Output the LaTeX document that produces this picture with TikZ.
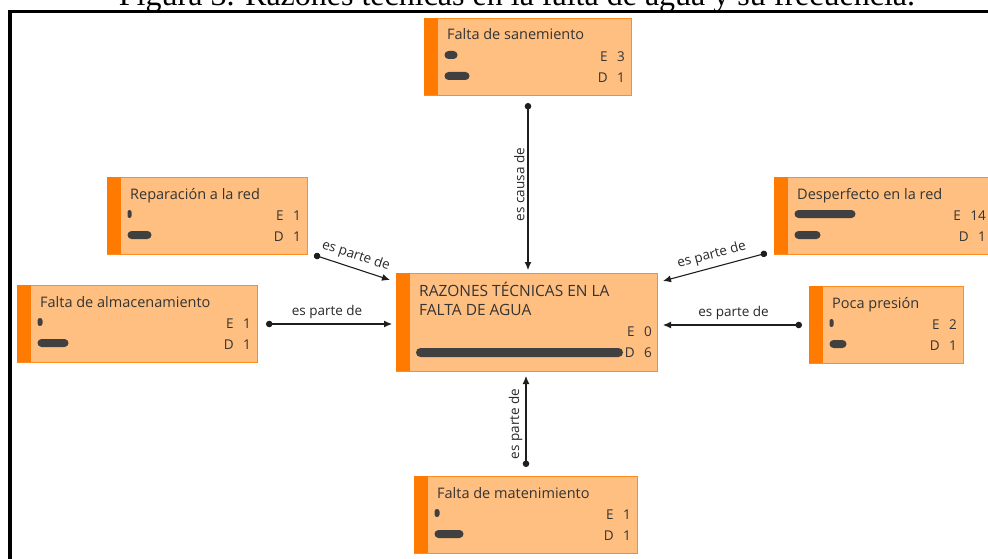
\documentclass[tikz,border=0pt]{standalone}
\usepackage{fontspec}
\setmainfont{Liberation Serif}
\newfontfamily\uifont{Open Sans}
\usepackage{xcolor}
\usepackage{tikz}
\usetikzlibrary{arrows.meta}

\definecolor{boxfill}{RGB}{255,191,128}
\definecolor{boxline}{RGB}{255,140,30}
\definecolor{barorange}{RGB}{255,122,0}
\definecolor{ink}{RGB}{64,64,64}
\definecolor{textink}{RGB}{52,52,52}

% one code box: name, left, top, width, title, E bar, D bar, E count, D count
\newcommand{\codebox}[9]{%
	\node[codebox, minimum width=#4] (#1) at (#2,#3) {};
	\fill[barorange] (#1.north west) rectangle ++(14,77);
	\path (#1.north west) ++(23,22) node[boxtitle] (#1-t) {#5};
	\pgfmathsetmacro\rca{min(#6,8)/2}
	\pgfmathsetmacro\rcb{min(#7,8)/2}
	\fill[ink, rounded corners=\rca pt] (#1.north west) ++(20.5,33) rectangle ++(#6,8);
	\fill[ink, rounded corners=\rcb pt] (#1.north west) ++(20.5,54) rectangle ++(#7,8);
	\path (#1.north east) ++(-7,39) node[count] (#1-en) {#8};
	\node[count] (#1-e) at ([xshift=-9pt]#1-en.west) {E};
	\path (#1.north east) ++(-7,60) node[count] (#1-dn) {#9};
	\node[count] (#1-d) at ([xshift=-9pt]#1-dn.west) {D};
}

\begin{document}
\begin{tikzpicture}[x=1pt,y=-1pt,
		codebox/.style={draw=boxline, fill=boxfill, line width=1pt, minimum height=77pt, anchor=north west, inner sep=0pt},
		boxtitle/.style={font=\uifont\fontsize{14.5}{17}\selectfont, text=textink, anchor=base west, inner sep=0pt},
		count/.style={font=\uifont\fontsize{13.5}{16}\selectfont, text=textink, anchor=east, inner sep=0pt},
		link/.style={line width=1.1pt, draw={rgb,255:red,30;green,30;blue,30}, {Circle[length=6.5pt]}-{Latex[length=8pt,width=7pt]}},
		linklabel/.style={font=\uifont\fontsize{13.5}{16}\selectfont, text={rgb,255:red,40;green,40;blue,40}, inner sep=3pt}]
	\useasboundingbox (0,0) rectangle (988,559);
	\node[font=\fontsize{32}{34}\selectfont, anchor=base] (caption) at (517,6) {Figura 3. Razones técnicas en la falta de agua y su frecuencia.};
	\draw[line width=3.4pt] (10,1000) -- (10,11.5) -- (1200,11.5);
	%
	\node[codebox, minimum width=261, minimum height=98] (center) at (396,273) {};
	\fill[barorange] (center.north west) rectangle ++(14,98);
	\path (center.north west) ++(23,23) node[boxtitle, font=\uifont\fontsize{15.5}{18}\selectfont] (center-t1) {RAZONES TÉCNICAS EN LA};
	\path (center.north west) ++(23,42) node[boxtitle, font=\uifont\fontsize{15.5}{18}\selectfont] (center-t2) {FALTA DE AGUA};
	\fill[ink, rounded corners=4.5pt] (center.north west) ++(20,75) rectangle ++(207,9);
	\path (center.north east) ++(-6,59) node[count] (center-en) {0};
	\node[count] (center-e) at ([xshift=-9pt]center-en.west) {E};
	\path (center.north east) ++(-6,80) node[count] (center-dn) {6};
	\node[count] (center-d) at ([xshift=-9pt]center-dn.west) {D};
	%
	\codebox{sane}{424}{18}{207}{Falta de sanemiento}{13}{25}{3}{1}
	\codebox{rep}{107}{177}{200}{Reparación a la red}{4}{24}{1}{1}
	\codebox{desp}{774}{177}{218}{Desperfecto en la red}{61}{26}{14}{1}
	\codebox{alm}{17}{285}{240}{Falta de almacenamiento}{5}{31}{1}{1}
	\codebox{poca}{809}{286}{154}{Poca presión}{4}{17}{2}{1}
	\codebox{mat}{414}{476}{223}{Falta de matenimiento}{5}{29}{1}{1}
	%
	\draw[link, shorten <=7pt, shorten >=3pt] (sane.south) -- (sane.south |- center.north)
		node[midway, rotate=90, anchor=south, linklabel] {es causa de};
	\draw[link] ([xshift=6pt]rep.south east) -- ([xshift=-6pt,yshift=-7pt]center.north west)
		node[midway, sloped, above, linklabel, inner sep=5pt] {es parte de};
	\draw[link] ([xshift=-7pt,yshift=2pt]desp.south west) -- ([xshift=5pt,yshift=-8pt]center.north east)
		node[midway, sloped, above, linklabel, inner sep=5pt] {es parte de};
	\draw[link, shorten <=8pt, shorten >=4pt] (alm.east) -- (alm.east -| center.west)
		node[midway, above, linklabel, inner sep=5pt] {es parte de};
	\draw[link, shorten <=7pt, shorten >=5pt] (poca.west) -- (poca.west -| center.east)
		node[midway, above, linklabel, inner sep=5pt] {es parte de};
	\draw[link, shorten <=9pt, shorten >=4pt] (mat.north) -- (mat.north |- center.south)
		node[midway, rotate=90, anchor=south, linklabel] {es parte de};
\end{tikzpicture}
\end{document}
